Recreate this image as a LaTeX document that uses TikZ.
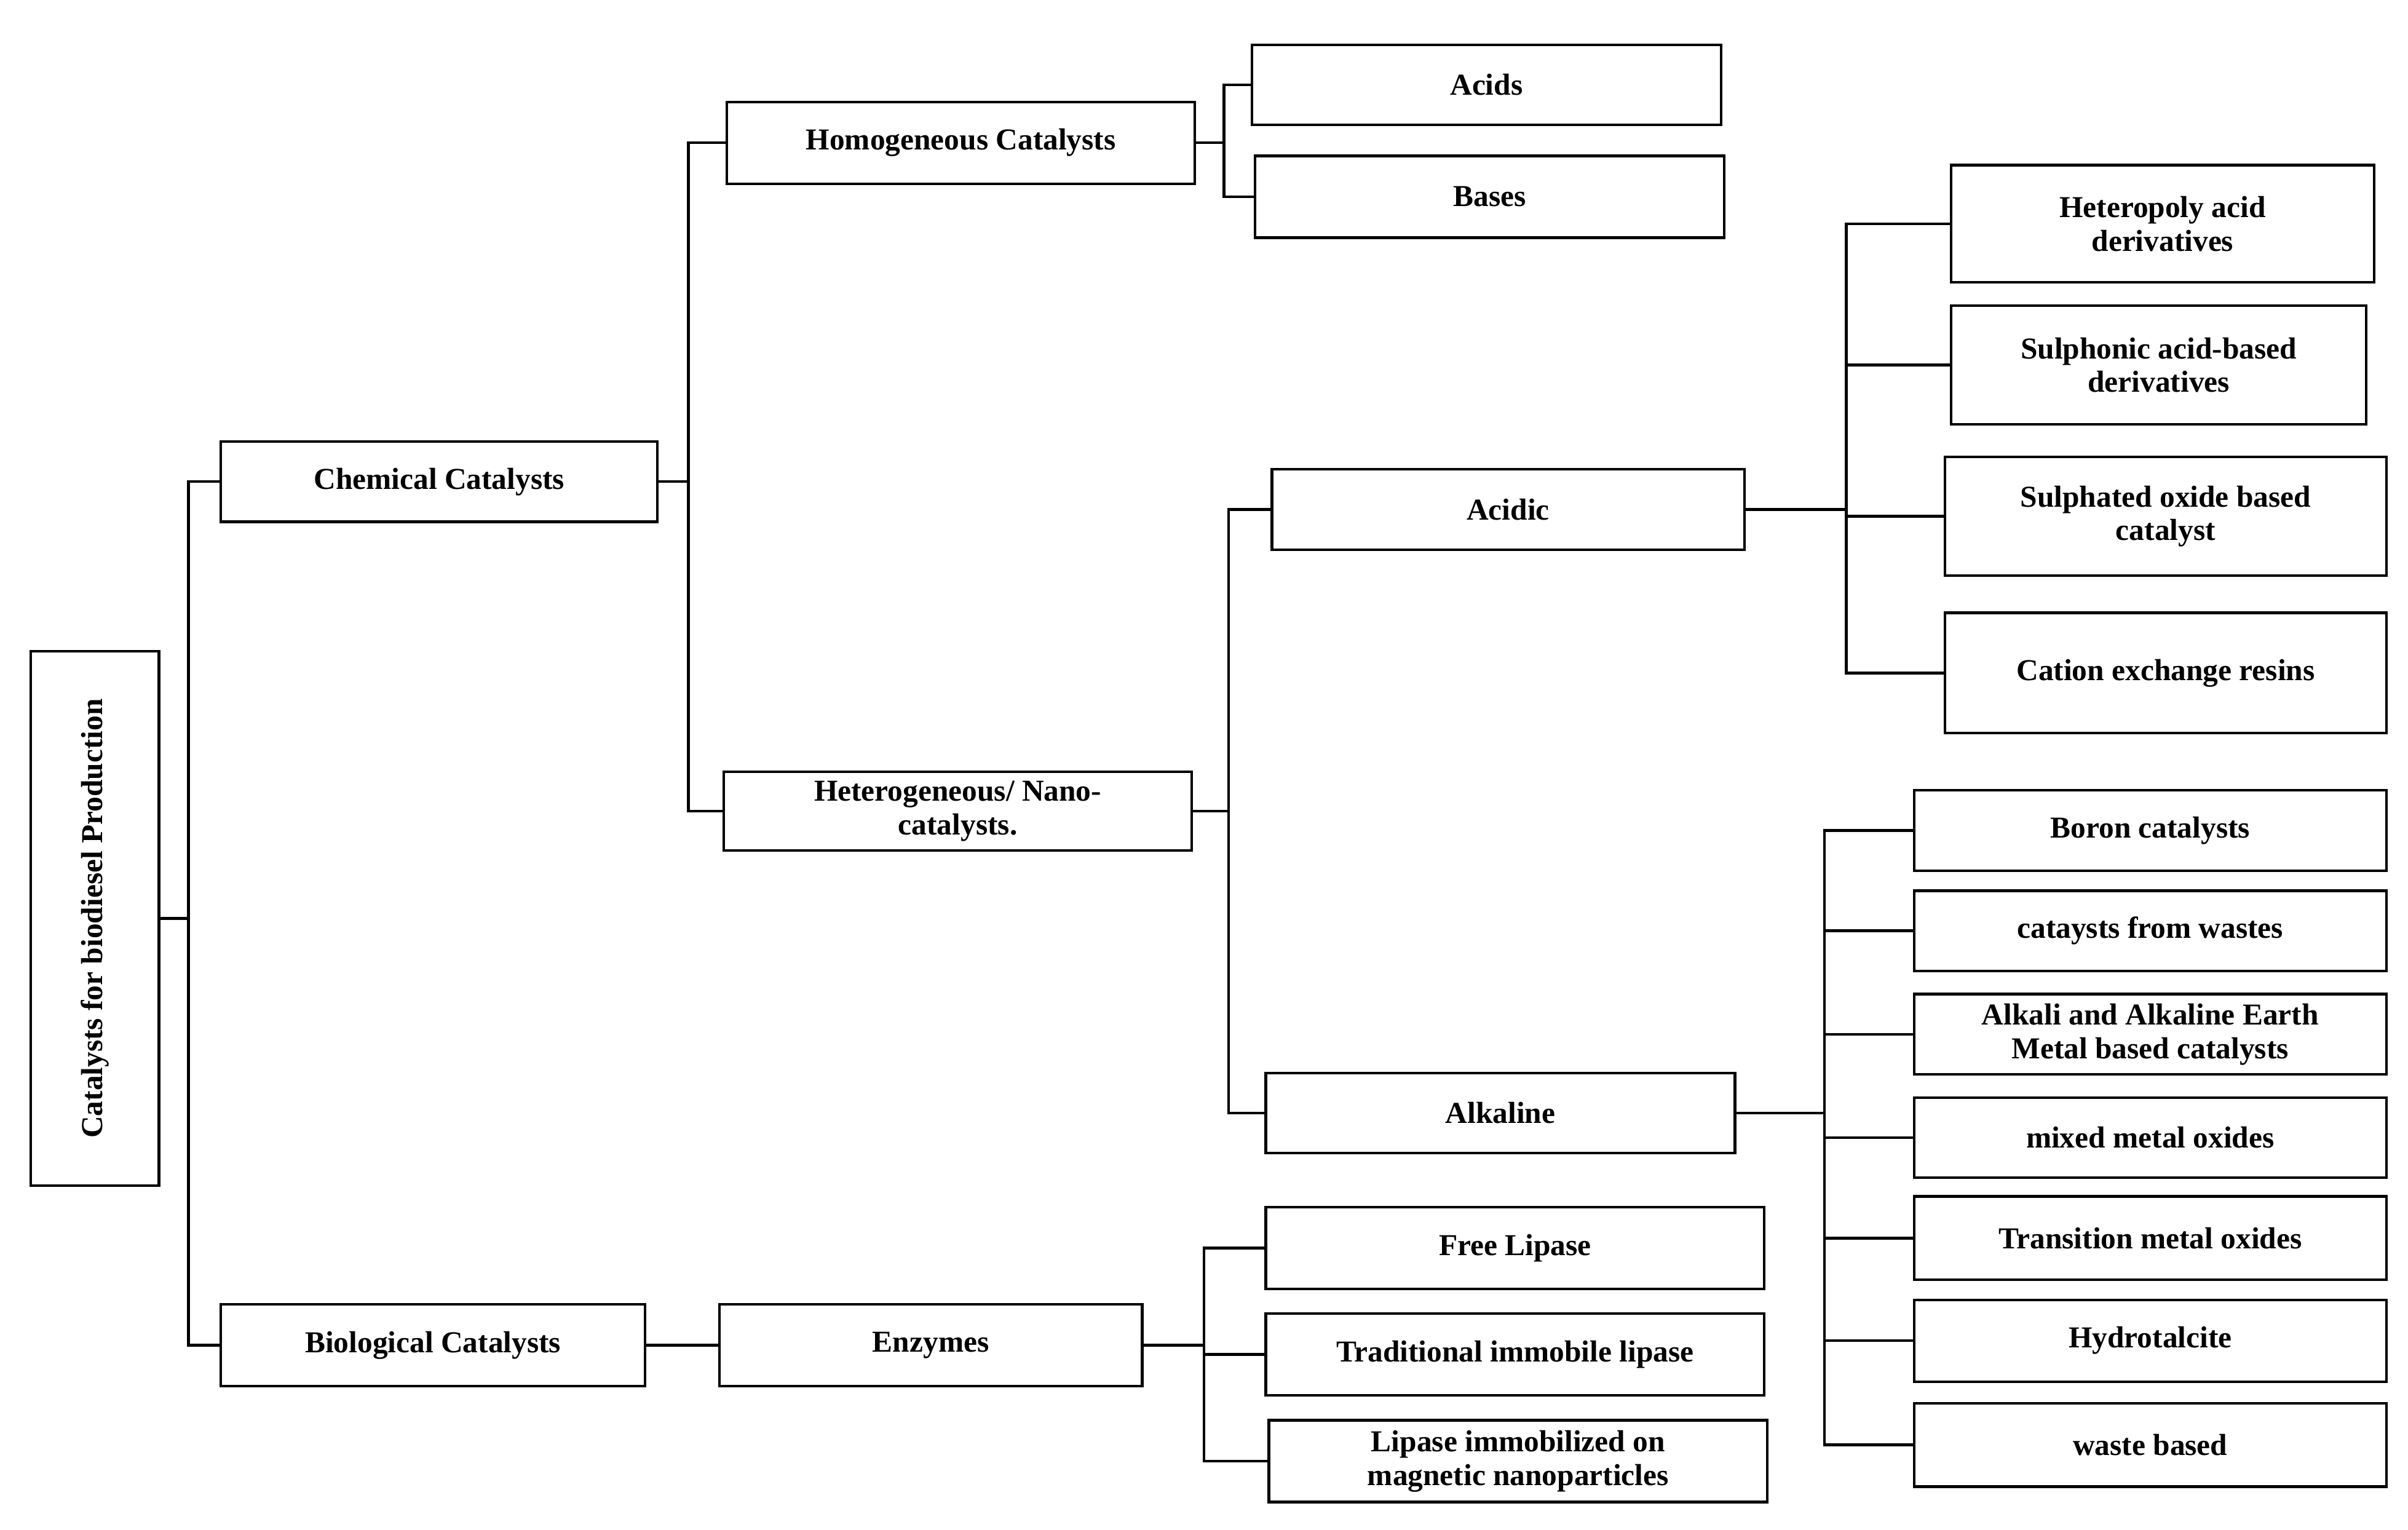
\documentclass[tikz,border=0pt]{standalone}
\usepackage{fontspec}
\setmainfont{Liberation Serif}
\begin{document}
\newcommand{\bx}[6]{\node[bx,minimum width={(#4-#2)*0.025cm},minimum height={(#5-#3)*0.025cm}] (#1) at ({(#2+#4)/2},{(#3+#5)/2}) {#6};}
\begin{tikzpicture}[x=0.025cm,y=-0.025cm,
  bx/.style={draw,line width=1.2pt,inner sep=0pt,align=center,font=\fontsize{14}{15.5}\selectfont\bfseries},
  ln/.style={line width=1.3pt}]
\useasboundingbox (0,0) rectangle (1560,991);
\node[bx,minimum width={(768-422)*0.025cm},minimum height={(103-20)*0.025cm},rotate=90] (root) at (61.5,595) {Catalysts for biodiesel Production};
\bx{chem}{143}{286}{426}{338}{Chemical Catalysts}
\bx{bio}{143}{845}{418}{898}{Biological Catalysts}
\bx{homo}{471}{66}{774}{119}{Homogeneous Catalysts}
\bx{hetero}{469}{500}{772}{551}{Heterogeneous/ Nano-\\catalysts.}
\bx{acids}{811}{29}{1115}{81}{Acids}
\bx{bases}{813}{101}{1117}{154}{Bases}
\bx{acidic}{824}{304}{1130}{356}{Acidic}
\bx{alk}{820}{695}{1124}{747}{Alkaline}
\bx{enz}{466}{845}{740}{898}{Enzymes}
\bx{hpa}{1264}{107}{1538}{183}{Heteropoly acid\\derivatives}
\bx{sul}{1264}{198}{1533}{275}{Sulphonic acid-based\\derivatives}
\bx{sox}{1260}{296}{1546}{373}{Sulphated oxide based\\catalyst}
\bx{cat}{1260}{397}{1546}{475}{Cation exchange resins}
\bx{boron}{1240}{512}{1546}{564}{Boron catalysts}
\bx{cw}{1240}{577}{1546}{629}{catays\-ts from wastes}
\bx{aa}{1240}{644}{1546}{696}{Alkali and Alkaline Earth\\Metal based catalysts}
\bx{mmo}{1240}{711}{1546}{763}{mixed metal oxides}
\bx{tmo}{1240}{775}{1546}{829}{Transition metal oxides}
\bx{hyd}{1240}{842}{1546}{895}{Hydrotalcite}
\bx{wb}{1240}{909}{1546}{963}{waste based}
\bx{fl}{820}{782}{1143}{835}{Free Lipase}
\bx{til}{820}{851}{1143}{904}{Traditional immobile lipase}
\bx{lim}{822}{920}{1145}{973}{Lipase immobilized on\\magnetic nanoparticles}
\foreach \t in {chem,bio} \draw[ln] (root.south) -- (122,595) |- (\t.west);
\foreach \t in {homo,hetero} \draw[ln] (chem.east) -- (446,312) |- (\t.west);
\foreach \t in {acids,bases} \draw[ln] (homo.east) -- (793,92.5) |- (\t.west);
\foreach \t in {acidic,alk} \draw[ln] (hetero.east) -- (796,525.5) |- (\t.west);
\foreach \t in {hpa,sul,sox,cat} \draw[ln] (acidic.east) -- (1196,330) |- (\t.west);
\foreach \t in {boron,cw,aa,mmo,tmo,hyd,wb} \draw[ln] (alk.east) -- (1182,721) |- (\t.west);
\draw[ln] (bio) -- (enz);
\foreach \t in {fl,til,lim} \draw[ln] (enz.east) -- (780,871.5) |- (\t.west);
\end{tikzpicture}
\end{document}
